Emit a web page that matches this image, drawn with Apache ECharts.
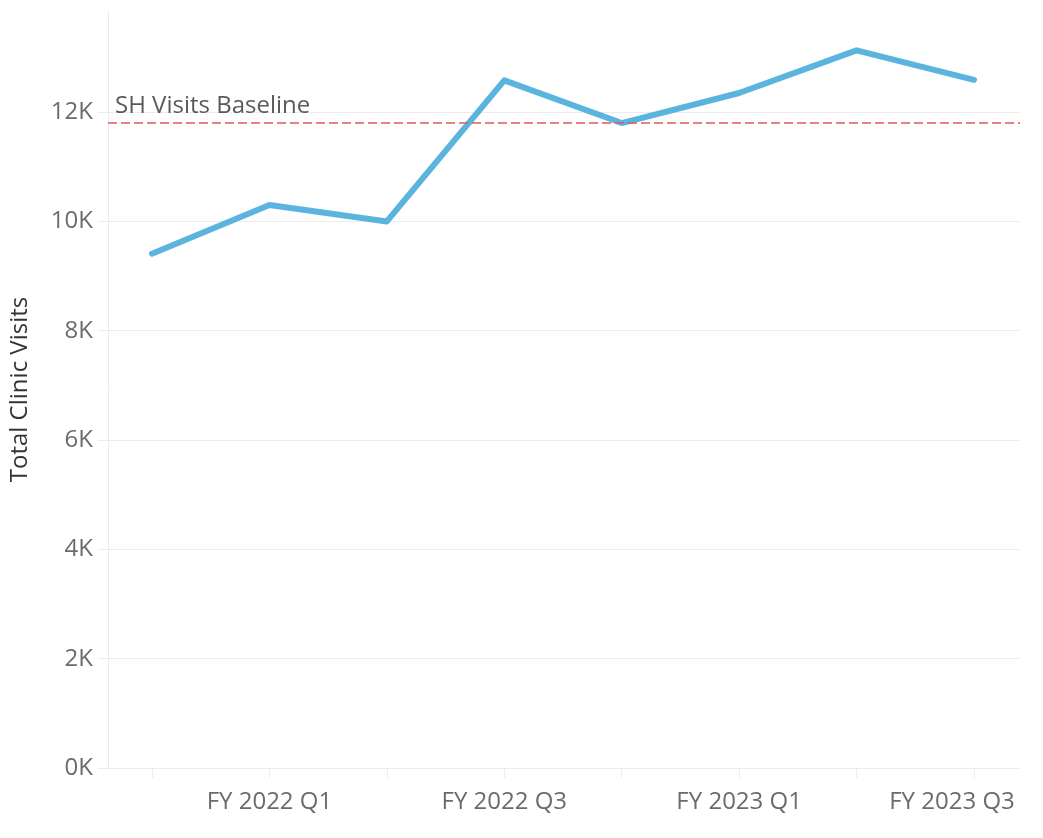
<!DOCTYPE HTML>
<html><head>
<meta charset="utf-8">
<title>Total Clinic Visits</title>
<script src="https://cdn.jsdelivr.net/npm/echarts@6/dist/echarts.min.js"></script>
<style>
html,body{margin:0;padding:0;background:#fff;}
#main{width:1043px;height:838px;}
</style>
</head>
<body>
<div id="main"></div>
<script type="text/javascript">
// quarters (only every other one gets a label)
var quarters = ['FY 2021 Q4', 'FY 2022 Q1', 'FY 2022 Q2', 'FY 2022 Q3', 'FY 2022 Q4', 'FY 2023 Q1', 'FY 2023 Q2', 'FY 2023 Q3'];
var visits = [9410, 10300, 10000, 12580, 11800, 12350, 13130, 12590];
var baseline = 11810;
var baselineName = 'SH Visits Baseline';
var yMax = 13850;

var font = 'Open Sans';
var grey = '#6b6b6b';
var light = '#ececec';

// last label is nudged left so it stays inside the plot, like the original
var catData = quarters.map(function (q, i) {
    if (i === quarters.length - 1) {
        return {value: q, textStyle: {padding: [0, 44, 0, 0]}};
    }
    return q;
});

var myChart = echarts.init(document.getElementById('main'));

option = {
    animation: false,
    grid: [
        {left: 108, right: 23, top: 11, bottom: 70, outerBoundsMode: 'none'},   // frame: y axis, gridlines, baseline
        {left: 152, right: 69, top: 11, bottom: 70, outerBoundsMode: 'none'}    // the quarters line
    ],
    xAxis: [
        {gridIndex: 0, type: 'value', min: 0, max: 1, show: false},
        {
            gridIndex: 1,
            type: 'category',
            data: catData,
            boundaryGap: false,
            axisLine: {show: false},
            axisTick: {show: true, length: 10, interval: 0, lineStyle: {color: light}},
            axisLabel: {
                interval: function (i) { return i % 2 === 1; },
                color: grey, fontFamily: font, fontSize: 24, margin: 22
            },
            splitLine: {show: false}
        }
    ],
    yAxis: [
        {
            gridIndex: 0,
            type: 'value',
            min: 0, max: yMax, interval: 2000,
            name: 'Total Clinic Visits',
            nameLocation: 'middle',
            nameGap: 76,
            nameTextStyle: {color: '#333', fontFamily: font, fontSize: 24},
            axisLine: {show: true, lineStyle: {color: light}},
            axisTick: {show: true, length: 10, lineStyle: {color: light}},
            axisLabel: {
                color: grey, fontFamily: font, fontSize: 24, margin: 15,
                showMaxLabel: false,
                formatter: function (v) { return (v / 1000) + 'K'; }
            },
            splitLine: {show: true, showMaxLine: false, lineStyle: {color: light, width: 1}}
        },
        {gridIndex: 1, type: 'value', min: 0, max: yMax, show: false}
    ],
    series: [
        {
            name: baselineName,
            type: 'line',
            xAxisIndex: 0, yAxisIndex: 0,
            data: [],
            markLine: {
                silent: true,
                symbol: ['none', 'none'],
                lineStyle: {color: '#e05a5a', type: [9, 4], width: 1.5},
                label: {
                    show: true, position: 'insideStartTop', formatter: baselineName,
                    color: '#5a5a5a', fontFamily: font, fontSize: 24, distance: [7, 4]
                },
                data: [{yAxis: baseline}]
            }
        },
        {
            name: 'Total Clinic Visits',
            type: 'line',
            xAxisIndex: 1, yAxisIndex: 1,
            data: visits,
            showSymbol: false,
            lineStyle: {color: '#5ab4de', width: 6, cap: 'round', join: 'round'}
        }
    ]
};

myChart.setOption(option);
</script>
</body>
</html>
